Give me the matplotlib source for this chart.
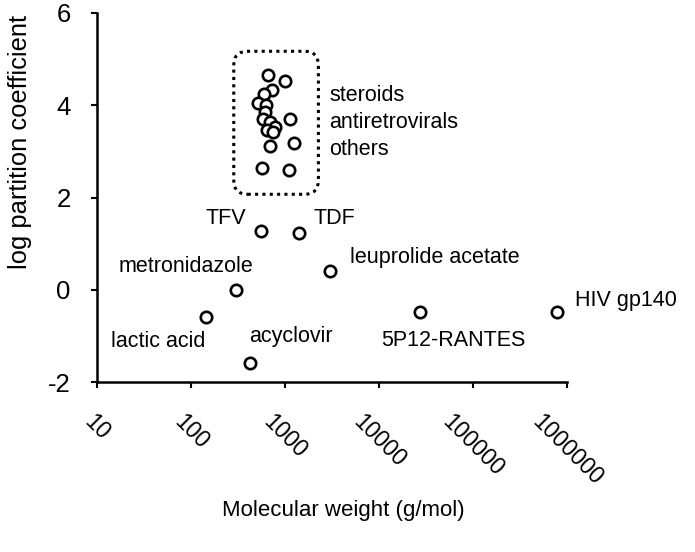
import matplotlib
matplotlib.use('Agg')
import matplotlib.pyplot as plt
import numpy as np
from matplotlib.patches import FancyBboxPatch

plt.rcParams['font.family'] = ['Liberation Sans', 'DejaVu Sans']

# named compounds: molecular weight (g/mol), log partition coefficient
names = ['TFV', 'TDF', 'leuprolide acetate', 'metronidazole', 'lactic acid',
         'acyclovir', '5P12-RANTES', 'HIV gp140']
mw = [557, 1422, 3040, 304, 145, 422, 27500, 783000]
logk = [1.27, 1.22, 0.41, 0.0, -0.60, -1.58, -0.49, -0.49]

# cluster of steroids / antiretrovirals / others
cluster_mw = [661, 1009, 730, 604, 513, 630, 619, 585, 1143, 689, 791,
              646, 740, 1259, 689, 571, 1097]
cluster_logk = [4.65, 4.52, 4.33, 4.24, 4.05, 4.00, 3.86, 3.71, 3.71, 3.64,
                3.53, 3.46, 3.42, 3.18, 3.11, 2.63, 2.59]
cluster_labels = ['steroids', 'antiretrovirals', 'others']

xticks = [10, 100, 1000, 10000, 100000, 1000000]
yticks = [-2, 0, 2, 4, 6]

# label offsets in pixels (dx, dy) and alignment
offsets = [(-15, 13, 'right'), (14, 15, 'left'), (20, 13, 'left'),
           (-50, 23, 'center'), (-1, -24, 'right'), (-1, 26, 'left'),
           (33, -28, 'center'), (18, 12, 'left')]

fig = plt.figure(figsize=(6.95, 5.52), dpi=100)
ax = fig.add_axes([97/695, 170/552, 470/695, 369/552])

mk = dict(marker='o', linestyle='none', markersize=8.2, markerfacecolor='white',
          markeredgecolor='black', markeredgewidth=1.9)
ax.plot(mw, logk, **mk)
ax.plot(cluster_mw, cluster_logk, **mk)

ax.set_xscale('log')
ax.set_xlim(10, 1000000)
ax.set_ylim(-2, 6)
ax.set_xticks(xticks)
ax.set_xticklabels([str(t) for t in xticks], rotation=-45, ha='center',
                   va='top', fontsize=16.5)
ax.set_yticks(yticks)
ax.set_yticklabels([str(t) for t in yticks], fontsize=18.5)
ax.minorticks_off()
ax.tick_params(width=1.5, length=4, direction='out')
ax.tick_params(axis='y', pad=15)
ax.tick_params(axis='x', pad=16)
for s in ['top', 'right']:
    ax.spines[s].set_visible(False)
for s in ['left', 'bottom']:
    ax.spines[s].set_linewidth(1.8)

ax.set_xlabel('Molecular weight (g/mol)', fontsize=16, va='center')
ax.xaxis.set_label_coords(0.524, -0.347)
ax.set_ylabel('log partition coefficient', fontsize=18.4, va='center')
ax.yaxis.set_label_coords(-0.163, 0.65)

for n, x, y, (dx, dy, ha) in zip(names, mw, logk, offsets):
    ax.annotate(n, (x, y), xytext=(dx, dy), textcoords='offset pixels',
                ha=ha, va='center', fontsize=15.5)

# dotted rounded box around the cluster, padded in pixels
pts = ax.transData.transform(np.column_stack([cluster_mw, cluster_logk]))
pad = 24
x0, y0 = pts.min(axis=0) - pad
x1, y1 = pts.max(axis=0) + pad
box = FancyBboxPatch((x0 + 14, y0 + 14), (x1 - x0) - 28, (y1 - y0) - 28,
                     boxstyle='round,pad=14', transform=None, fill=False,
                     linestyle=(0, (1, 1.4)), linewidth=2.2, edgecolor='black')
fig.add_artist(box)

cy = (y0 + y1) / 2
for i, lab in enumerate(cluster_labels):
    fig.text(x1 + 11, cy + (1 - i) * 27, lab, transform=None, ha='left',
             va='center', fontsize=15.5)

fig.savefig('out.png', dpi=100)
